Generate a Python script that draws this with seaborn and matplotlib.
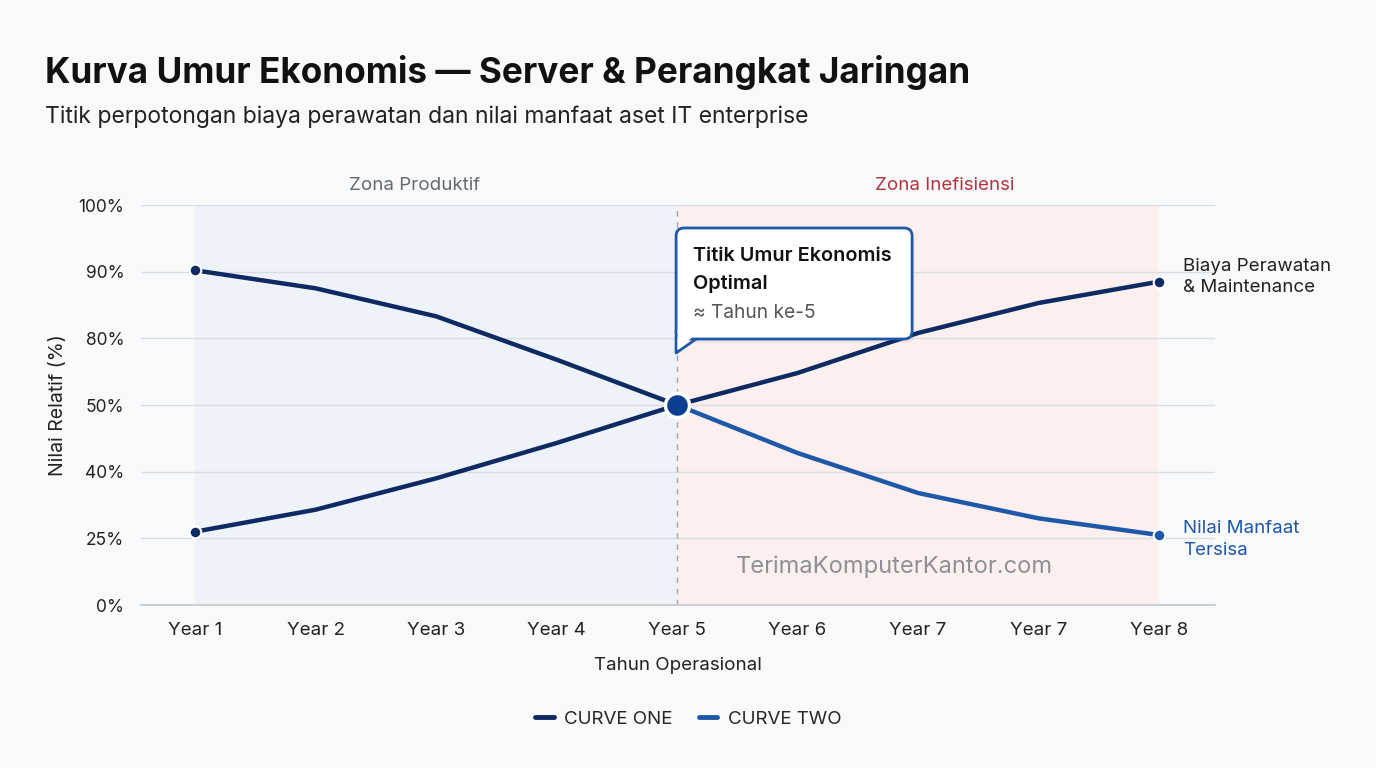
import numpy as np
import pandas as pd
import matplotlib.pyplot as plt
import seaborn as sns
from matplotlib.lines import Line2D
from matplotlib.patches import FancyBboxPatch, Polygon
from matplotlib.transforms import IdentityTransform

sns.set_style("white")
plt.rcParams['font.family'] = ['Inter', 'DejaVu Sans']

# data (y values are in tick-slot units: the y axis shows evenly spaced labels)
years = ["Year 1", "Year 2", "Year 3", "Year 4", "Year 5", "Year 6", "Year 7", "Year 7", "Year 8"]
y_labels = ["0%", "25%", "40%", "50%", "80%", "90%", "100%"]
biaya = [1.10, 1.43, 1.90, 2.43, 3.00, 3.48, 4.08, 4.53, 4.85]
manfaat = [5.02, 4.75, 4.33, 3.68, 3.00, 2.28, 1.68, 1.30, 1.05]
crossing = 4  # index of "Year 5"

BG = '#f8f9fb'
NAVY = '#0f2a62'
BLUE = '#1f58a8'
DOT = '#0b3d91'

df = pd.DataFrame({'pos': np.arange(len(years)), 'biaya': biaya, 'manfaat': manfaat})

fig = plt.figure(figsize=(13.76, 7.68), dpi=100, facecolor=BG)
ax = fig.add_axes([141 / 1376, 1 - 605 / 768, (1215 - 141) / 1376, 400 / 768])
ax.set_facecolor(BG)

# zones
ax.axvspan(0, crossing, color='#eef2f9', zorder=0, lw=0)
ax.axvspan(crossing, len(years) - 1, color='#fbf0ef', zorder=0, lw=0)
ax.axvline(crossing, color='#a8a2a6', lw=1, ls=(0, (4, 4)), zorder=1)

# curves
sns.lineplot(data=df, x='pos', y='biaya', color=NAVY, lw=3.2, ax=ax, zorder=3)
sns.lineplot(data=df[df.pos <= crossing], x='pos', y='manfaat', color=NAVY, lw=3.2, ax=ax, zorder=3)
sns.lineplot(data=df[df.pos >= crossing], x='pos', y='manfaat', color=BLUE, lw=3.2, ax=ax, zorder=3)

ends = df.iloc[[0, -1]]
ax.scatter(ends.pos, ends.biaya, s=70, color=NAVY, edgecolor='white', lw=1.5, zorder=4)
ax.scatter(ends.pos.iloc[:1], ends.manfaat.iloc[:1], s=70, color=NAVY, edgecolor='white', lw=1.5, zorder=4)
ax.scatter(ends.pos.iloc[1:], ends.manfaat.iloc[1:], s=70, color=BLUE, edgecolor='white', lw=1.5, zorder=4)
ax.scatter([crossing], [df.biaya[crossing]], s=300, color=DOT, edgecolor='white', lw=2.5, zorder=5)

# axes
ax.set_xlim(-0.45, len(years) - 1 + 0.465)
ax.set_ylim(0, len(y_labels) - 1)
ax.set_xticks(df.pos)
ax.set_xticklabels(years)
ax.set_yticks(range(len(y_labels)))
ax.set_yticklabels(y_labels)
ax.tick_params(length=0, colors='#222222')
ax.tick_params(axis='x', labelsize=13.5, pad=12)
ax.tick_params(axis='y', labelsize=12.5, pad=12)
ax.yaxis.grid(True, color='#d9dce1', lw=1, zorder=1)
ax.set_axisbelow(True)
for s in ['top', 'right', 'left']:
    ax.spines[s].set_visible(False)
ax.spines['bottom'].set_color('#c4c8ce')
ax.spines['bottom'].set_linewidth(1.2)
ax.set_xlabel('Tahun Operasional', fontsize=13.5, color='#222222', labelpad=13)
ax.set_ylabel('Nilai Relatif (%)', fontsize=14, color='#222222', labelpad=8)

# zone labels
ax.text(1.82, 6.3, 'Zona Produktif', ha='center', va='center', fontsize=13.5, color='#666a70')
ax.text(6.22, 6.3, 'Zona Inefisiensi', ha='center', va='center', fontsize=13.5, color='#b0353a')

# end labels
ax.text(8.2, df.biaya.iloc[-1] + 0.07, 'Biaya Perawatan\n& Maintenance', ha='left', va='center',
        fontsize=13.5, color='#222222', linespacing=1.35)
ax.text(8.2, df.manfaat.iloc[-1] - 0.07, 'Nilai Manfaat\nTersisa', ha='left', va='center',
        fontsize=13.5, color=BLUE, linespacing=1.35)

# watermark
ax.text(5.8, 0.58, 'TerimaKomputerKantor.com', ha='center', va='center', fontsize=17, color='#8f9094')

# callout box anchored at the crossing point
fig.canvas.draw()
cx, cy = ax.transData.transform((crossing, df.biaya[crossing]))
idt = IdentityTransform()
bx, by, bw, bh = cx - 1, cy + 66, 236, 111
shadow = FancyBboxPatch((bx + 2, by - 4), bw, bh, boxstyle='round,pad=0,rounding_size=8',
                        transform=idt, facecolor='#000000', alpha=0.05, edgecolor='none', zorder=6)
box = FancyBboxPatch((bx, by), bw, bh, boxstyle='round,pad=0,rounding_size=8',
                     transform=idt, facecolor='white', edgecolor=BLUE, lw=2, zorder=7)
tail = Polygon([(bx, by + 8), (bx, by - 14), (bx + 20, by)], closed=True, transform=idt,
               facecolor='white', edgecolor=BLUE, lw=2, zorder=7, joinstyle='round')
cover = Polygon([(bx + 1.5, by + 9), (bx + 1.5, by - 10), (bx + 16, by + 1.5), (bx + 16, by + 9)],
                closed=True, transform=idt, facecolor='white', edgecolor='none', zorder=8)
for p in [shadow, tail, box, cover]:
    fig.add_artist(p)
fig.text(bx + 17, by + bh - 28, 'Titik Umur Ekonomis', transform=idt, fontsize=14.3,
         fontweight='semibold', color='#111111', va='center', zorder=9)
fig.text(bx + 17, by + bh - 56, 'Optimal', transform=idt, fontsize=14.3,
         fontweight='semibold', color='#111111', va='center', zorder=9)
fig.text(bx + 17, by + bh - 85, '≈ Tahun ke-5', transform=idt, fontsize=13.8,
         color='#555555', va='center', zorder=9)

# titles
fig.text(45 / 1376, 1 - 72 / 768, 'Kurva Umur Ekonomis — Server & Perangkat Jaringan',
         fontsize=25.3, fontweight='bold', color='#111111', va='center')
fig.text(45 / 1376, 1 - 117 / 768, 'Titik perpotongan biaya perawatan dan nilai manfaat aset IT enterprise',
         fontsize=16.5, color='#222222', va='center')

# legend
handles = [Line2D([], [], color=NAVY, lw=3.5), Line2D([], [], color=BLUE, lw=3.5)]
fig.legend(handles, ['CURVE ONE', 'CURVE TWO'], loc='center', bbox_to_anchor=(0.5, 1 - 719 / 768),
           ncol=2, frameon=False, fontsize=13.5, handlelength=1.0, columnspacing=1.4, handletextpad=0.55)

fig.savefig('out.png', dpi=100, facecolor=BG)
